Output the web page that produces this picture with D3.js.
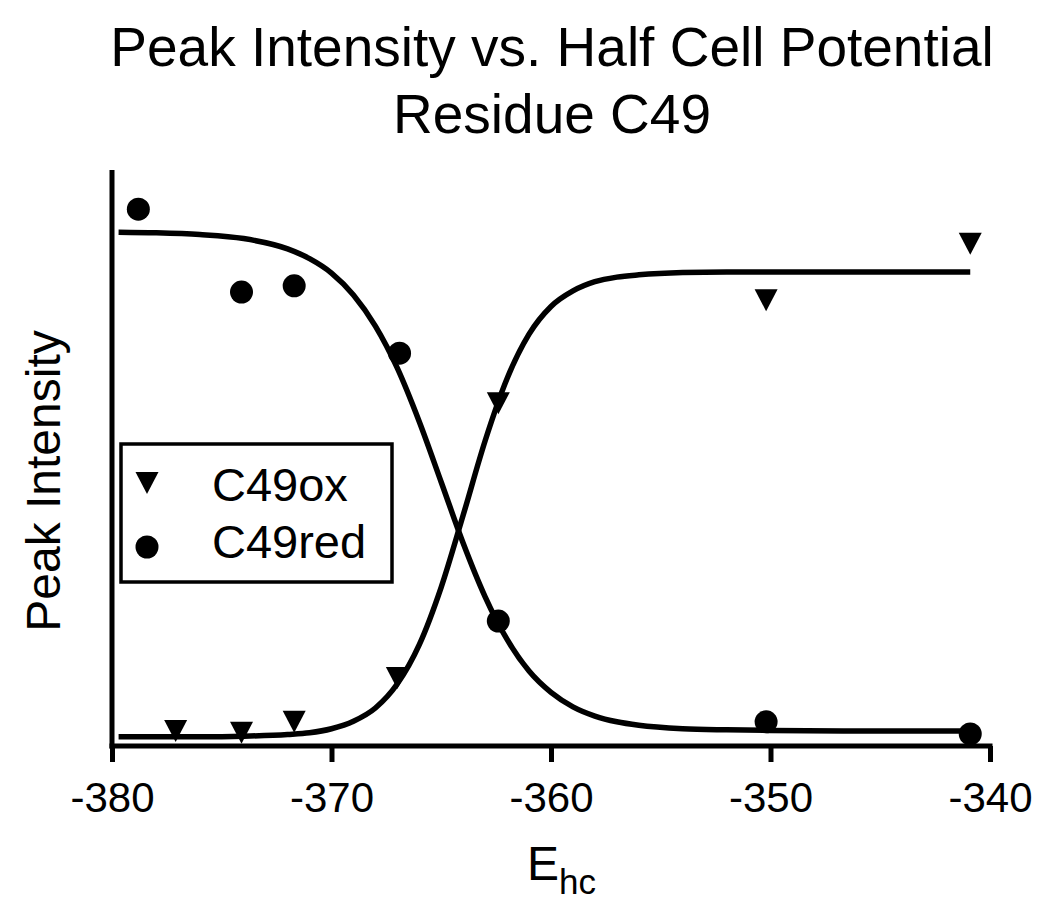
<!DOCTYPE html>
<html>
<head>
<meta charset="utf-8">
<script src="https://cdn.jsdelivr.net/npm/d3@7"></script>
<style>
  html, body { margin: 0; padding: 0; background: #fff; }
  svg { display: block; font-family: "Liberation Sans", Arial, Helvetica, sans-serif; }
</style>
</head>
<body>
<svg id="chart" width="1050" height="910"></svg>
<script>
// ---- Data ----
const xTicks = [-380, -370, -360, -350, -340];
const titleLines = ["Peak Intensity vs. Half Cell Potential", "Residue C49"];
const seriesNames = ["C49ox", "C49red"];

// measured points
const oxX  = [-377.1, -374.1, -371.7, -367.0, -362.4, -350.2, -340.9];
const oxY  = [2.6, 2.3, 4.2, 11.8, 59.5, 77.4, 87.2];
const redX = [-378.8, -374.1, -371.7, -366.9, -362.4, -350.2, -340.9];
const redY = [93.2, 78.8, 79.9, 68.2, 21.7, 4.2, 2.1];

// fitted curves
const fitX    = [-379.7, -378, -376, -374, -372, -371, -370, -369, -368, -367, -366, -365, -364, -363, -362, -361, -360, -359, -358, -357, -356, -354, -352, -350, -346, -340.9];
const fitOxY  = [1.6, 1.6, 1.6, 1.7, 2.0, 2.3, 3.0, 4.3, 6.6, 10.8, 17.6, 27.6, 40.1, 53.0, 63.8, 71.5, 76.3, 79.0, 80.6, 81.4, 81.8, 82.2, 82.3, 82.3, 82.3, 82.3];
const fitRedY = [89.2, 89.1, 88.8, 88.1, 86.3, 84.6, 82.1, 78.3, 72.9, 65.6, 56.3, 45.8, 35.2, 25.9, 18.5, 13.0, 9.3, 6.8, 5.2, 4.2, 3.6, 3.0, 2.8, 2.7, 2.6, 2.6];

// ---- Chart ----
const svg = d3.select("#chart");
const x = d3.scaleLinear().domain([-380, -340]).range([112, 990]);
const y = d3.scaleLinear().domain([0, 100]).range([746, 170]);

// title
svg.append("g").selectAll("text").data(titleLines).join("text")
  .attr("x", 552).attr("y", (d, i) => 66 + i * 67)
  .attr("text-anchor", "middle")
  .attr("font-size", 55)
  .attr("fill", "#000")
  .text(d => d);

// fitted curves
const line = d3.line().x(d => x(d[0])).y(d => y(d[1])).curve(d3.curveMonotoneX);
svg.append("path").datum(fitX.map((v, i) => [v, fitOxY[i]]))
  .attr("d", line).attr("fill", "none").attr("stroke", "#000").attr("stroke-width", 5.5);
svg.append("path").datum(fitX.map((v, i) => [v, fitRedY[i]]))
  .attr("d", line).attr("fill", "none").attr("stroke", "#000").attr("stroke-width", 5.5);

// axes
const xAxis = svg.append("g").attr("transform", "translate(0,746)")
  .call(d3.axisBottom(x).tickValues(xTicks).tickSize(16).tickSizeOuter(0).tickPadding(20).tickFormat(d => String(d)));
xAxis.select(".domain").attr("stroke", "#000").attr("stroke-width", 5).attr("d", `M${x(-380) - 2.5},0H${x(-340) + 2.5}`);
xAxis.selectAll(".tick line").attr("stroke", "#000").attr("stroke-width", 5);
xAxis.selectAll(".tick text").attr("font-size", 42).attr("font-family", "Liberation Sans, Arial, sans-serif").attr("fill", "#000");

const yAxis = svg.append("g").attr("transform", "translate(112,0)")
  .call(d3.axisLeft(y).tickValues([]).tickSizeOuter(0));
yAxis.select(".domain").attr("stroke", "#000").attr("stroke-width", 5).attr("d", `M0,${y(100)}V${y(0) + 2.5}`);

// axis labels
const xl = svg.append("text").attr("x", 527).attr("y", 880).attr("fill", "#000").attr("font-size", 48);
xl.append("tspan").text("E");
xl.append("tspan").attr("font-size", 35).attr("dy", 14).text("hc");

svg.append("text")
  .attr("transform", "translate(60,481) rotate(-90)")
  .attr("text-anchor", "middle").attr("font-size", 48).attr("fill", "#000")
  .text("Peak Intensity");

// symbols
const tri = "M-11.5,-11L11.5,-11L0,11Z";
svg.append("g").selectAll("path").data(oxX.map((v, i) => [v, oxY[i]])).join("path")
  .attr("d", tri).attr("transform", d => `translate(${x(d[0])},${y(d[1])})`).attr("fill", "#000");
svg.append("g").selectAll("circle").data(redX.map((v, i) => [v, redY[i]])).join("circle")
  .attr("cx", d => x(d[0])).attr("cy", d => y(d[1])).attr("r", 11.5).attr("fill", "#000");

// legend
const lg = svg.append("g");
lg.append("rect").attr("x", 121).attr("y", 444).attr("width", 271).attr("height", 138)
  .attr("fill", "#fff").attr("stroke", "#000").attr("stroke-width", 3.5);
lg.append("path").attr("d", tri).attr("transform", "translate(147,483)").attr("fill", "#000");
lg.append("circle").attr("cx", 147).attr("cy", 547).attr("r", 11.5).attr("fill", "#000");
lg.selectAll("text.lt").data(seriesNames).join("text").attr("class", "lt")
  .attr("x", 212).attr("y", (d, i) => 501 + i * 57)
  .attr("font-size", 47).attr("fill", "#000").text(d => d);
</script>
</body>
</html>
